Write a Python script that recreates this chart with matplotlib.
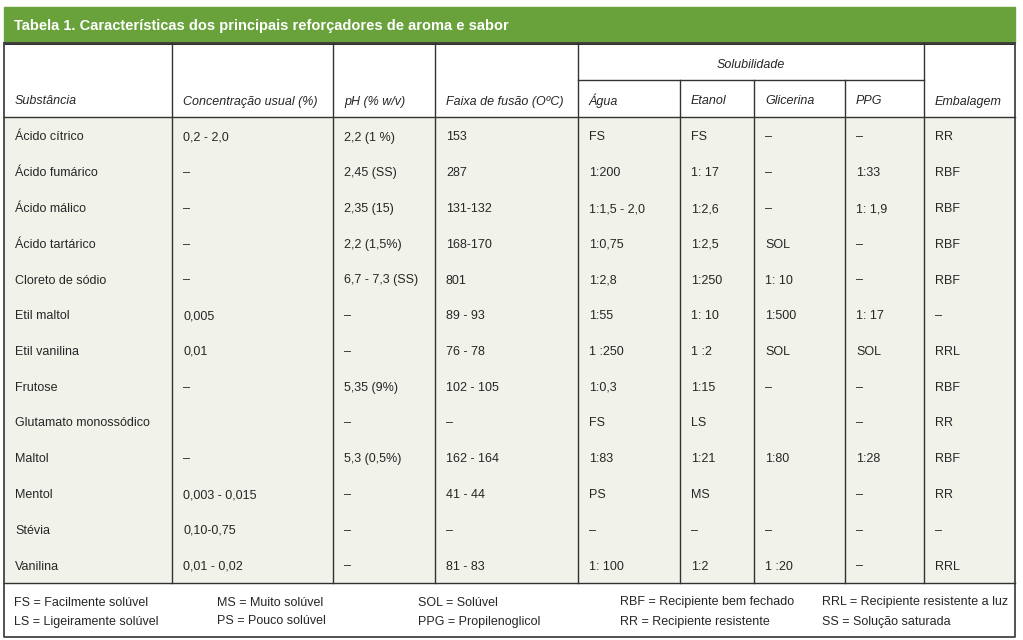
import matplotlib.pyplot as plt
from matplotlib.patches import Rectangle

plt.rcParams['font.family'] = ['Liberation Sans', 'DejaVu Sans']

# Dados da tabela
titulo = 'Tabela 1. Características dos principais reforçadores de aroma e sabor'
cabecalhos = ['Substância', 'Concentração usual (%)', 'pH (% w/v)', 'Faixa de fusão (OºC)',
              'Água', 'Etanol', 'Glicerina', 'PPG', 'Embalagem']
substancias = ['Ácido cítrico', 'Ácido fumárico', 'Ácido málico', 'Ácido tartárico',
               'Cloreto de sódio', 'Etil maltol', 'Etil vanilina', 'Frutose',
               'Glutamato monossódico', 'Maltol', 'Mentol', 'Stévia', 'Vanilina']
concentracao = ['0,2 - 2,0', '–', '–', '–', '–', '0,005', '0,01', '–', '', '–',
                '0,003 - 0,015', '0,10-0,75', '0,01 - 0,02']
ph = ['2,2 (1 %)', '2,45 (SS)', '2,35 (15)', '2,2 (1,5%)', '6,7 - 7,3 (SS)', '–', '–',
      '5,35 (9%)', '–', '5,3 (0,5%)', '–', '–', '–']
fusao = ['153', '287', '131-132', '168-170', '801', '89 - 93', '76 - 78', '102 - 105',
         '–', '162 - 164', '41 - 44', '–', '81 - 83']
agua = ['FS', '1:200', '1:1,5 - 2,0', '1:0,75', '1:2,8', '1:55', '1 :250', '1:0,3',
        'FS', '1:83', 'PS', '–', '1: 100']
etanol = ['FS', '1: 17', '1:2,6', '1:2,5', '1:250', '1: 10', '1 :2', '1:15', 'LS',
          '1:21', 'MS', '–', '1:2']
glicerina = ['–', '–', '–', 'SOL', '1: 10', '1:500', 'SOL', '–', '', '1:80', '', '–', '1 :20']
ppg = ['–', '1:33', '1: 1,9', '–', '–', '1: 17', 'SOL', '–', '–', '1:28', '–', '–', '–']
embalagem = ['RR', 'RBF', 'RBF', 'RBF', 'RBF', '–', 'RRL', 'RBF', 'RR', 'RBF', 'RR', '–', 'RRL']
legenda = [['FS = Facilmente solúvel', 'LS = Ligeiramente solúvel'],
           ['MS = Muito solúvel', 'PS = Pouco solúvel'],
           ['SOL = Solúvel', 'PPG = Propilenoglicol'],
           ['RBF = Recipiente bem fechado', 'RR = Recipiente resistente'],
           ['RRL = Recipiente resistente a luz', 'SS = Solução saturada']]

colunas = [substancias, concentracao, ph, fusao, agua, etanol, glicerina, ppg, embalagem]

# Layout em pixels
W, H = 1023, 640
left, right = 4, 1015
top, title_bot = 7, 43
sol_line, head_bot, body_bot, bottom = 80, 117, 583, 637
col_x = [4, 172, 333, 435, 578, 680, 754, 845, 924]
row0, row_h = 136, 35.75
base = 4.5  # deslocamento da linha de base
verde = '#69a23b'
fundo = '#f1f2ea'
linha = '#333333'
cor_txt = '#262626'
fs = 9

fig = plt.figure(figsize=(W / 100, H / 100), dpi=100)
ax = fig.add_axes([0, 0, 1, 1])
ax.set_xlim(0, W)
ax.set_ylim(H, 0)
ax.axis('off')

# fundos
ax.add_patch(Rectangle((left, top), right - left, title_bot - top, color=verde, zorder=0))
ax.add_patch(Rectangle((left, head_bot), right - left, body_bot - head_bot, color=fundo, zorder=0))
ax.text(14, 30, titulo, color='white', fontsize=10.5,
        fontweight='bold', va='baseline', ha='left')

# linhas
ax.plot([left, right], [title_bot, title_bot], color='#1a1a1a', lw=2, solid_capstyle='butt')
ax.plot([left, left, right, right, left], [title_bot, bottom, bottom, title_bot, title_bot],
        color='#444444', lw=1.3)
for y in [head_bot, body_bot]:
    ax.plot([left, right], [y, y], color=linha, lw=1)
ax.plot([col_x[4], col_x[8]], [sol_line, sol_line], color=linha, lw=1)
for i, x in enumerate(col_x[1:], start=1):
    y0 = sol_line if i in (5, 6, 7) else title_bot
    ax.plot([x, x], [y0, body_bot], color=linha, lw=1)

# cabeçalhos
ax.text((col_x[4] + col_x[8]) / 2, 64 + base, 'Solubilidade', fontsize=fs, style='italic',
        ha='center', va='baseline', color=cor_txt)
for x, txt in zip(col_x, cabecalhos):
    ax.text(x + 11, 100 + base, txt, fontsize=fs, style='italic', ha='left', va='baseline',
            color=cor_txt)

# corpo
for j, col in enumerate(colunas):
    for i, val in enumerate(col):
        ax.text(col_x[j] + 11, row0 + i * row_h + base, val, fontsize=fs, ha='left',
                va='baseline', color=cor_txt)

# legenda
leg_x = [14, 217, 418, 620, 822]
for x, par in zip(leg_x, legenda):
    for k, txt in enumerate(par):
        ax.text(x, 601 + k * 19 + base, txt, fontsize=fs, ha='left', va='baseline', color=cor_txt)

fig.savefig('out.png', dpi=100)
